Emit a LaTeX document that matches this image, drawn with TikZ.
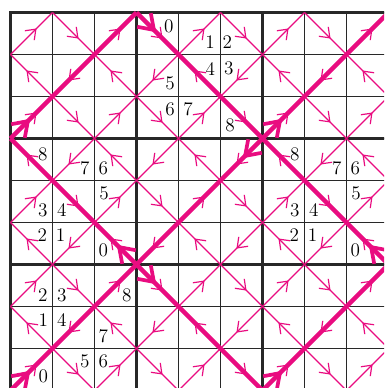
\documentclass[tikz,border=0pt]{standalone}
\usetikzlibrary{arrows.meta,decorations.markings}
\definecolor{pk}{RGB}{233,12,128}
\definecolor{gridc}{RGB}{40,40,40}
\tikzset{
  midbarb/.style={postaction={decorate,decoration={markings,
     mark=at position 0.62 with {\arrow{Straight Barb[length=6pt,width=9pt,line width=0.8pt]}}}}},
  thinarrow/.style={draw=pk,line width=0.85pt,midbarb},
  thickarrow/.style={draw=pk,line width=3pt,midbarb},
  startarrow/.style={thickarrow,postaction={decorate,decoration={markings,
     mark=at position 0.47 with {\arrow{Straight Barb[length=9.5pt,width=13pt,line width=2.5pt]}}}}},
  lab/.style={inner sep=0pt,font=\fontsize{13}{15}\selectfont},
  gridthin/.style={draw=gridc,line width=0.8pt},
  gridthick/.style={draw=gridc,line width=2.3pt,line cap=rect}
}
% entries: dc/dr/sx/sy/kind  (kind 0 thin, 1 thick, 2 thick start)
\def\typeA{0/0/0/1/0,1/0/0/0/0,2/0/0/1/1,0/1/1/1/0,1/1/1/0/1,2/1/1/1/0,0/2/0/1/2,1/2/0/0/0,2/2/0/1/0}
\def\typeB{0/0/0/0/2,1/0/0/1/0,2/0/0/0/0,0/1/1/0/0,1/1/1/1/1,2/1/1/0/0,0/2/0/0/0,1/2/0/1/0,2/2/0/0/1}
\def\typeC{0/0/1/1/1,1/0/1/0/0,2/0/1/1/0,0/1/0/1/0,1/1/0/0/1,2/1/0/1/0,0/2/1/1/0,1/2/1/0/0,2/2/1/1/2}
\def\typeD{0/0/1/0/0,1/0/1/1/0,2/0/1/0/2,0/1/0/0/0,1/1/0/1/1,2/1/0/0/0,0/2/1/0/1,1/2/1/1/0,2/2/1/0/0}
\newcommand\drawthinpart[3]{%
  \foreach \dc/\dr/\sx/\sy/\k in #3 {
    \pgfmathsetmacro\xa{#1+\dc+\sx}
    \pgfmathsetmacro\ya{-(#2+\dr+\sy)}
    \pgfmathsetmacro\xb{#1+\dc+1-\sx}
    \pgfmathsetmacro\yb{-(#2+\dr+1-\sy)}
    \ifnum\k=0 \path[thinarrow] (\xa,\ya) -- (\xb,\yb);\fi
  }}
\newcommand\drawthickpart[3]{%
  \foreach \dc/\dr/\sx/\sy/\k in #3 {
    \pgfmathsetmacro\xa{#1+\dc+\sx}
    \pgfmathsetmacro\ya{-(#2+\dr+\sy)}
    \pgfmathsetmacro\xb{#1+\dc+1-\sx}
    \pgfmathsetmacro\yb{-(#2+\dr+1-\sy)}
    \ifnum\k=1 \path[thickarrow] (\xa,\ya) -- (\xb,\yb);\fi
    \ifnum\k=2 \path[startarrow] (\xa,\ya) -- (\xb,\yb);\fi
  }}
\newcommand\putlabels[4]{%
  \foreach \px/\py/\t in #4 {
    \node[lab] (#3\t) at (#1+\px,-#2-\py) {\t};
  }}
\def\labB{0.77/0.34/0,1.75/0.70/1,2.16/0.71/2,1.76/1.34/4,2.20/1.34/3,0.80/1.68/5,0.80/2.30/6,1.23/2.30/7,2.23/2.68/8}
\def\labC{0.77/0.37/8,1.77/0.71/7,2.21/0.71/6,2.23/1.31/5,0.77/1.70/3,1.22/1.70/4,0.76/2.30/2,1.19/2.30/1,2.21/2.67/0}
\def\labA{0.77/0.73/2,1.22/0.73/3,2.77/0.73/8,0.78/1.32/1,1.22/1.32/4,2.21/1.70/7,1.77/2.31/5,2.21/2.31/6,0.78/2.66/0}
\begin{document}
\begin{tikzpicture}
\useasboundingbox (-0.25,0.298) rectangle (8.893,-8.940);
\fill[white] (-0.25,0.298) rectangle (8.893,-8.940);
\clip (-0.25,0.298) rectangle (8.893,-8.940);
% grid
\draw[gridthin] (0,-9) grid (9,0);
\foreach \i in {0,3,6,9} {
  \draw[gridthick] (\i,0) -- (\i,-9);
  \draw[gridthick] (0,-\i) -- (9,-\i);
}
% thin pink lines
\drawthinpart{0}{0}{\typeA}
\drawthinpart{3}{0}{\typeB}
\drawthinpart{6}{0}{\typeA}
\drawthinpart{0}{3}{\typeC}
\drawthinpart{3}{3}{\typeD}
\drawthinpart{6}{3}{\typeC}
\drawthinpart{0}{6}{\typeA}
\drawthinpart{3}{6}{\typeB}
\drawthinpart{6}{6}{\typeA}
% thick pink lines
\drawthickpart{0}{0}{\typeA}
\drawthickpart{3}{0}{\typeB}
\drawthickpart{6}{0}{\typeA}
\drawthickpart{0}{3}{\typeC}
\drawthickpart{3}{3}{\typeD}
\drawthickpart{6}{3}{\typeC}
\drawthickpart{0}{6}{\typeA}
\drawthickpart{3}{6}{\typeB}
\drawthickpart{6}{6}{\typeA}
% labels
\putlabels{3}{0}{bt}{\labB}
\putlabels{0}{3}{cl}{\labC}
\putlabels{6}{3}{cr}{\labC}
\putlabels{0}{6}{al}{\labA}
\end{tikzpicture}
\end{document}
